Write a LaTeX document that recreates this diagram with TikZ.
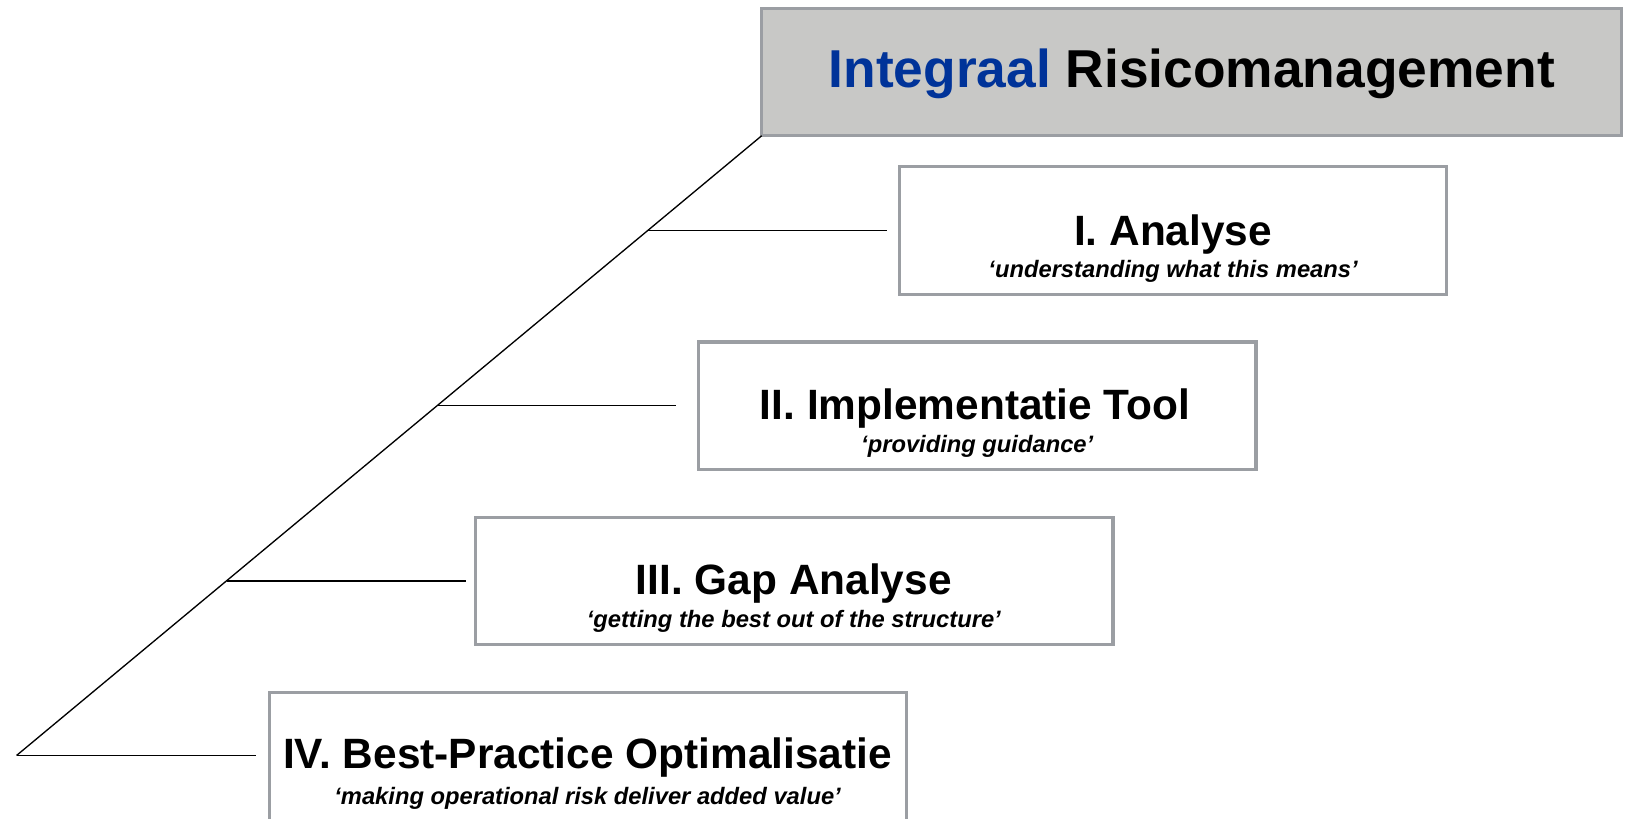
\documentclass[tikz,border=0pt]{standalone}
\usepackage{fontspec}
\setmainfont{Liberation Sans}
\definecolor{boxgray}{RGB}{155,158,163}
\definecolor{titlefill}{RGB}{200,200,198}
\definecolor{titleblue}{RGB}{0,51,153}
\begin{document}
\begin{tikzpicture}[x=0.7772pt,y=-0.7772pt]
\tikzset{
  box/.style={draw=boxgray, line width=2.4pt, fill=white, inner sep=0pt, outer sep=0pt, anchor=north west},
  titlebox/.style={box, fill=titlefill},
  mainlbl/.style={anchor=base, inner sep=0pt, font=\fontsize{31.8}{38}\selectfont\bfseries},
  sublbl/.style={anchor=base, inner sep=0pt, font=\fontsize{17.8}{21}\selectfont\bfseries\itshape},
  conn/.style={draw=black, line width=1pt}
}
\useasboundingbox (0,0) rectangle (1571,790.3);
\clip (0,0) rectangle (1571,790.3);
% boxes
\node[titlebox, minimum width=830*0.7772pt, minimum height=123*0.7772pt] (T) at (735,8) {};
\node[box, minimum width=528*0.7772pt, minimum height=123*0.7772pt] (B1) at (868,161) {};
\node[box, minimum width=538*0.7772pt, minimum height=123*0.7772pt] (B2) at (674,330) {};
\node[box, minimum width=615*0.7772pt, minimum height=123*0.7772pt] (B3) at (459,499) {};
\node[box, minimum width=615*0.7772pt, minimum height=170*0.7772pt] (B4) at (260,668) {};
% labels
\node[anchor=base, inner sep=0pt, font=\fontsize{40}{46}\selectfont\bfseries] (Tl) at (1150,84) {\textcolor{titleblue}{Integraal} Risicomanagement};
\node[mainlbl] (L1) at (1132,237) {I. Analyse};
\node[sublbl] (S1) at (1132,268) {‘understanding what this means’};
\node[mainlbl] (L2) at (941,405) {II. Implementatie Tool};
\node[sublbl] (S2) at (943,437) {‘providing guidance’};
\node[mainlbl] (L3) at (766,574) {III. Gap Analyse};
\node[sublbl] (S3) at (766,606) {‘getting the best out of the structure’};
\node[mainlbl] (L4) at (567,742) {IV. Best-Practice Optimalisatie};
\node[sublbl] (S4) at (567,776) {‘making operational risk deliver added value’};
% connectors
\coordinate (base) at (16,729);
\coordinate (p1) at (625,222.5);
\coordinate (p2) at (422,391.5);
\coordinate (p3) at (219,560.5);
\draw[conn] (T.south west) -- (base);
\draw[conn] (p1 |- B1.west) -- ([xshift=-12*0.7772pt]B1.west);
\draw[conn] (p2 |- B2.west) -- ([xshift=-22*0.7772pt]B2.west);
\draw[conn] (p3 |- B3.west) -- ([xshift=-9*0.7772pt]B3.west);
\draw[conn] (base) -- ([xshift=-13*0.7772pt]B4.west |- base);
\end{tikzpicture}
\end{document}
